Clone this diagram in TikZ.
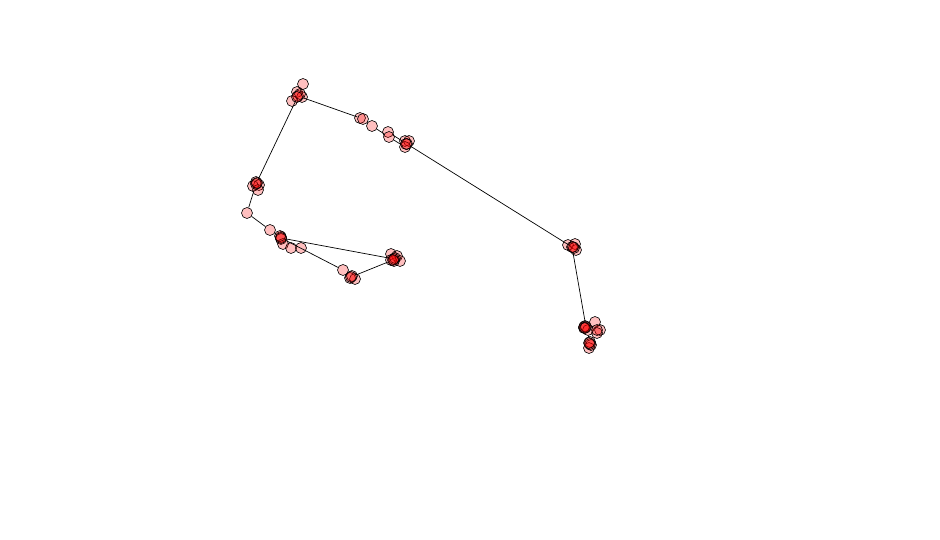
\documentclass[tikz,border=0pt]{standalone}
\begin{document}
\begin{tikzpicture}[x=1pt,y=-1pt,
  nd/.style={circle,draw=black,line width=0.6pt,fill=red,fill opacity=0.25,minimum size=11pt,inner sep=0pt},
  ed/.style={draw=black,line width=0.7pt}]
\useasboundingbox (0,0) rectangle (940,540);
% cluster A
\foreach \n/\x/\y in {a1/303/84,a2/297/92,a3/302/97,a4/292/101,a5/298/96,a6/300/94,a7/297/97}
  \node[nd] (\n) at (\x,\y) {};
% cluster B
\foreach \n/\x/\y in {b1/360/118,b2/363/119,b3/372/126,b4/388/132,b5/389/137,b6/405/141,b7/409/141,b8/405/147,b9/407/144,b10/406/144}
  \node[nd] (\n) at (\x,\y) {};
% cluster C
\foreach \n/\x/\y in {c1/256/182,c2/259/185,c3/253/186,c4/258/190,c5/256/184,c6/257/183}
  \node[nd] (\n) at (\x,\y) {};
\node[nd] (c7) at (247,213) {};
% cluster E
\foreach \n/\x/\y in {e1/270/230,e2/281/237,e3/281/239,e4/283/244,e5/291/248,e6/301/248,e7/280/236,e8/281/238}
  \node[nd] (\n) at (\x,\y) {};
% cluster G
\foreach \n/\x/\y in {g1/391/254,g2/397/256,g3/400/261,g4/394/261,g5/391/260,g6/395/258,g7/394/259,g8/393/260}
  \node[nd] (\n) at (\x,\y) {};
% cluster H
\foreach \n/\x/\y in {h1/343/270,h2/350/278,h3/355/279,h4/352/276,h5/351/277}
  \node[nd] (\n) at (\x,\y) {};
% cluster D
\foreach \n/\x/\y in {d1/568/245,d2/575/244,d3/576/250,d4/572/247,d5/574/248,d6/573/247}
  \node[nd] (\n) at (\x,\y) {};
% cluster I
\foreach \n/\x/\y in {i1/585/326,i2/584/328,i3/595/322,i4/600/330,i5/597/333,i6/588/330,i7/590/342,i8/589/348,i9/591/345,i10/584/327,i11/586/327,i12/597/330,i13/590/344,i14/589/343,i15/585/328}
  \node[nd] (\n) at (\x,\y) {};
% edges
\draw[ed] (a1) -- (a5);
\draw[ed] (a5) -- (b2);
\draw[ed] (b2) -- (b3);
\draw[ed] (b3) -- (b5);
\draw[ed] (b4) -- (b9);
\draw[ed] (b5) -- (b8);
\draw[ed] (b9) -- (d4);
\draw[ed] (a5) -- (c5);
\draw[ed] (c5) -- (c7);
\draw[ed] (c7) -- (e1);
\draw[ed] (e1) -- (e8);
\draw[ed] (e8) -- (g7);
\draw[ed] (e8) -- (h1);
\draw[ed] (h1) -- (h5);
\draw[ed] (h5) -- (g8);
\draw[ed] (d4) -- (i11);
\draw[ed] (i6) -- (i14);
\end{tikzpicture}
\end{document}
